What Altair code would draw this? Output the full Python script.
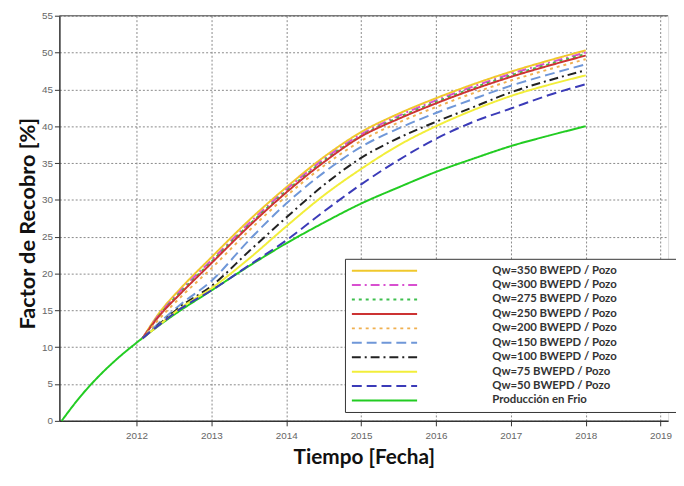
import altair as alt
import pandas as pd

# ---------------- data ----------------
names = [
    "Qw=350 BWEPD / Pozo",
    "Qw=300 BWEPD / Pozo",
    "Qw=275 BWEPD / Pozo",
    "Qw=250 BWEPD / Pozo",
    "Qw=200 BWEPD / Pozo",
    "Qw=150 BWEPD / Pozo",
    "Qw=100 BWEPD / Pozo",
    "Qw=75 BWEPD / Pozo",
    "Qw=50 BWEPD / Pozo",
    "Producción en Frio",
]

x_frio = [2011.0, 2011.25, 2011.5, 2011.75, 2012.0, 2012.5, 2013.0, 2013.5,
          2014.0, 2014.5, 2015.0, 2015.5, 2016.0, 2016.5, 2017.0, 2017.5, 2018.0]
y_frio = [0.0, 3.3, 6.1, 8.5, 10.6, 14.4, 17.7, 21.0,
          24.1, 26.9, 29.5, 31.7, 33.8, 35.6, 37.3, 38.7, 40.0]

x_iny = [2012.08, 2012.3, 2012.6, 2013.0, 2013.5, 2014.0, 2014.5,
         2015.0, 2015.5, 2016.0, 2016.5, 2017.0, 2017.5, 2018.0]
y_350 = [11.2, 14.6, 18.1, 22.2, 27.2, 31.7, 35.8, 39.2, 41.7, 43.8, 45.7, 47.4, 48.9, 50.3]
y_300 = [11.2, 14.4, 17.8, 21.8, 26.8, 31.4, 35.5, 38.9, 41.4, 43.5, 45.4, 47.1, 48.6, 50.0]
y_275 = [11.2, 14.3, 17.6, 21.6, 26.6, 31.2, 35.3, 38.7, 41.2, 43.3, 45.2, 46.9, 48.4, 49.8]
y_250 = [11.2, 14.2, 17.4, 21.4, 26.4, 31.0, 35.1, 38.6, 41.0, 43.1, 45.0, 46.7, 48.2, 49.6]
y_200 = [11.2, 13.8, 16.9, 20.7, 25.8, 30.5, 34.6, 38.0, 40.5, 42.6, 44.5, 46.2, 47.7, 49.1]
y_150 = [11.2, 13.3, 15.9, 19.0, 24.5, 29.5, 33.7, 37.2, 39.7, 41.8, 43.7, 45.5, 47.0, 48.4]
y_100 = [11.2, 13.1, 15.6, 18.3, 23.0, 27.6, 32.0, 35.7, 38.4, 40.6, 42.6, 44.6, 46.2, 47.6]
y_75 = [11.2, 13.0, 15.4, 18.0, 22.0, 26.4, 30.6, 34.2, 37.4, 40.0, 42.2, 44.1, 45.6, 46.9]
y_50 = [11.2, 13.0, 15.3, 17.7, 21.1, 24.5, 28.4, 32.1, 35.4, 38.3, 40.6, 42.4, 44.2, 45.7]

year_ticks = [2012, 2013, 2014, 2015, 2016, 2017, 2018, 2019]
y_ticks = [0, 5, 10, 15, 20, 25, 30, 35, 40, 45, 50, 55]

# ---------------- styles ----------------
colors = ["#f0c82c", "#d84fd0", "#3fbf4f", "#cc3333", "#f0b050",
          "#6f97d8", "#222222", "#f2ee3a", "#3b3bb8", "#22cc22"]
dashes = [[1, 0], [9, 4, 2, 4], [3, 4], [1, 0], [3, 4],
          [10, 5], [9, 4, 2, 4], [1, 0], [10, 5], [1, 0]]
widths = [2, 2, 2, 2.2, 2, 2, 2, 2, 2.2, 4.5]

series_y = [y_350, y_300, y_275, y_250, y_200, y_150, y_100, y_75, y_50]

rows = []
for i, (xv, yv) in enumerate(zip(x_frio, y_frio)):
    rows.append({"x": xv, "y": yv, "serie": names[9], "o": i})
for name, ys in zip(names[:9], series_y):
    for i, (xv, yv) in enumerate(zip(x_iny, ys)):
        rows.append({"x": xv, "y": yv, "serie": name, "o": i})
df = pd.DataFrame(rows)

FONT = "Lato"
TICKFONT = "Liberation Sans Narrow, Liberation Sans, sans-serif"

legend = alt.Legend(
    title="MMMMMM",
    titleColor="#ffffff",
    titleOrient="right",
    titleFontSize=11,
    titlePadding=0,
    orient="none",
    legendX=289,
    legendY=246,
    direction="vertical",
    columns=1,
    symbolType="M-1,0H12.2",
    symbolSize=100,
    labelFont=FONT,
    labelFontWeight="bold",
    labelFontSize=11.5,
    labelColor="#333333",
    labelOffset=131,
    labelLimit=300,
    rowPadding=2.6,
    padding=6,
    strokeColor="#333333",
    fillColor="#ffffff",
)

x_scale = alt.Scale(domain=[2010.97, 2019.1], nice=False, zero=False)
y_scale = alt.Scale(domain=[0, 55], nice=False)

x_axis = alt.Axis(values=year_ticks, format="d", title="Tiempo [Fecha]",
                  grid=True, gridDash=[2, 2], gridColor="#888888",
                  labelFont=TICKFONT, labelFontSize=10,
                  labelColor="#666666", labelPadding=5,
                  tickColor="#333333", tickSize=5,
                  domainColor="#333333", domainWidth=1.5,
                  titleFont=FONT, titleFontSize=21, titleFontWeight="bold",
                  titleColor="#111111", titlePadding=6)
y_axis = alt.Axis(values=y_ticks, title="Factor de Recobro [%]",
                  grid=True, gridDash=[2, 2], gridColor="#888888",
                  labelFont=TICKFONT, labelFontSize=10,
                  labelColor="#666666", labelPadding=2,
                  tickColor="#333333", tickSize=5,
                  domainColor="#333333", domainWidth=1.5,
                  titleFont=FONT, titleFontSize=22, titleFontWeight="bold",
                  titleColor="#111111", titleX=-32, titleY=210,
                  titleAngle=270, titleAlign="center", titleBaseline="middle")

lines = alt.Chart(df).mark_line(interpolate="monotone").encode(
    x=alt.X("x:Q", scale=x_scale, axis=x_axis),
    y=alt.Y("y:Q", scale=y_scale, axis=y_axis),
    color=alt.Color("serie:N", scale=alt.Scale(domain=names, range=colors),
                    sort=names, legend=legend),
    strokeDash=alt.StrokeDash("serie:N", scale=alt.Scale(domain=names, range=dashes),
                              sort=names, legend=legend),
    strokeWidth=alt.StrokeWidth("serie:N", scale=alt.Scale(domain=names, range=widths),
                                sort=names, legend=legend),
    order="o:Q",
)

top_border = alt.Chart(pd.DataFrame({"y": [55]})).mark_rule(
    color="#555555", strokeWidth=1.2).encode(
    y=alt.Y("y:Q", scale=y_scale, axis=y_axis))

chart = alt.layer(lines, top_border).properties(
    width=616,
    height=410,
    autosize=alt.AutoSizeParams(type="none"),
    padding={"left": 52, "top": 5, "right": 8, "bottom": 55},
).configure_view(stroke=None).configure(background="#ffffff")

chart.save("out.html", embed_options={"renderer": "svg", "actions": False})
